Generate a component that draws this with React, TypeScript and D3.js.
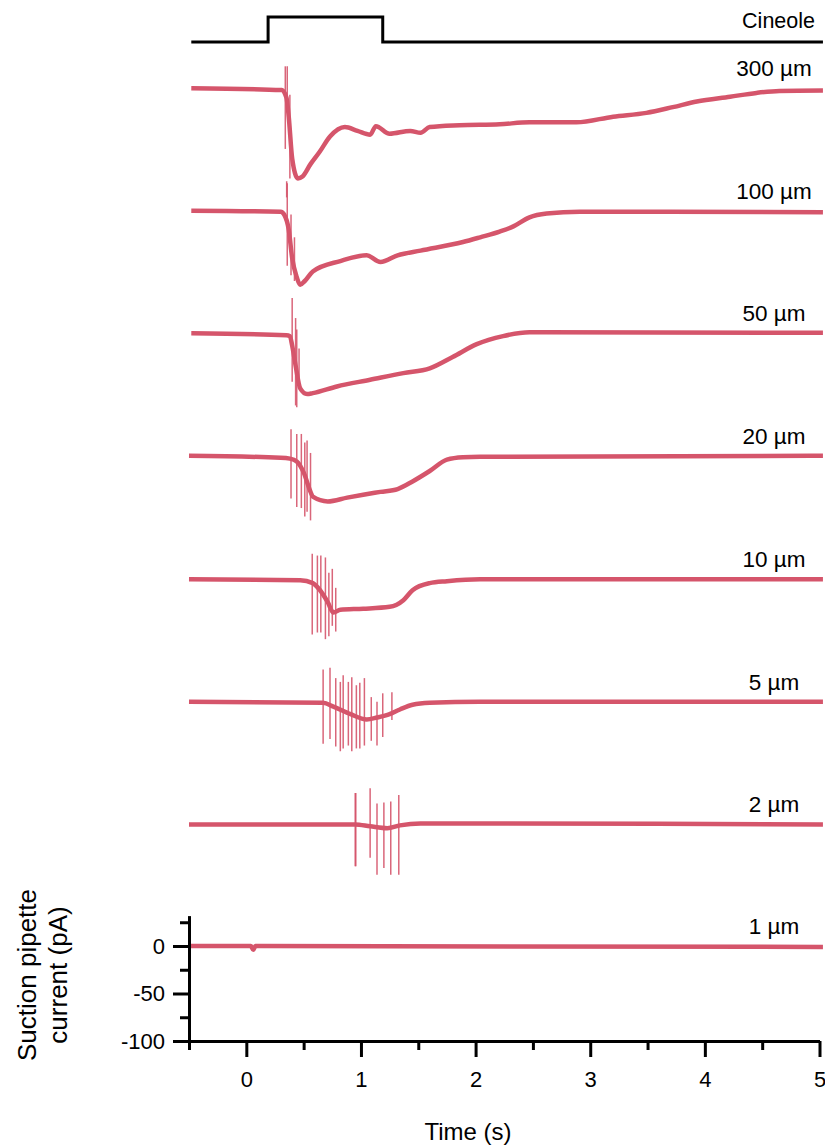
import { useEffect, useRef } from 'react';
import * as d3 from 'd3';

// time (s), current (pA relative to each trace's own baseline)
const trace300 = [
  [-0.48, 0], [0.31, -2], [0.35, -10], [0.37, -30], [0.40, -74], [0.45, -95], [0.49, -93],
  [0.56, -80], [0.64, -67], [0.73, -51], [0.86, -41], [0.97, -45], [1.08, -49], [1.13, -40],
  [1.25, -48], [1.43, -45], [1.52, -47], [1.60, -41], [1.86, -39], [2.21, -38], [2.47, -36],
  [2.88, -36], [3.20, -30], [3.49, -26], [3.72, -20], [3.93, -14], [4.22, -9], [4.45, -5],
  [4.65, -3], [5.03, -2.5],
];
const trace100 = [
  [-0.48, 0], [0.30, -1], [0.33, -4], [0.37, -20], [0.40, -50], [0.44, -70], [0.47, -78],
  [0.51, -74], [0.58, -64], [0.82, -53], [1.05, -47], [1.17, -54], [1.32, -47], [1.52, -42],
  [1.89, -33], [2.04, -28], [2.21, -22], [2.33, -16.5], [2.47, -7], [2.62, -3], [2.91, -1],
  [5.03, -1.5],
];
const trace50 = [
  [-0.48, 0], [0.35, -2], [0.38, -3], [0.40, -13], [0.43, -34], [0.47, -58], [0.53, -64],
  [0.58, -63], [0.79, -56], [1.08, -49], [1.37, -42], [1.60, -37], [1.80, -25], [2.01, -11.5],
  [2.24, -3], [2.47, 1], [5.03, 0.5],
];
const trace20 = [
  [-0.5, 0], [0.30, -2], [0.38, -3], [0.44, -6], [0.50, -17.5], [0.56, -38], [0.58, -43],
  [0.71, -48], [0.88, -44], [1.02, -41], [1.17, -38], [1.32, -35], [1.45, -27], [1.60, -16],
  [1.75, -4], [1.89, -1.5], [2.04, -1], [5.03, 0],
];
const trace10 = [
  [-0.5, 0], [0.47, -1], [0.58, -4], [0.64, -11], [0.71, -24], [0.76, -35], [0.82, -32],
  [1.02, -31], [1.25, -29], [1.37, -22], [1.45, -11.5], [1.60, -4], [1.75, -2], [2.04, 0],
  [5.03, 0],
];
const trace5 = [
  [-0.5, 0], [0.67, -1], [0.76, -5], [0.91, -13], [1.05, -18.5], [1.14, -16.5], [1.25, -13],
  [1.34, -8], [1.45, -3], [1.60, -1], [2.04, 0], [5.03, 0],
];
const trace2 = [
  [-0.5, 0], [0.95, 0], [1.08, -2], [1.23, -4], [1.34, -1], [1.52, 1], [5.03, 0],
];
const trace1 = [
  [-0.5, 0], [0.04, 0], [0.06, -4], [0.08, 0], [5.03, -1],
];

// fast transients: time (s), top (pA), bottom (pA)
const spikes300 = [[0.34, 23, -64], [0.357, 23, -23], [0.38, -7, -95], [0.352, -98, -115]];
const spikes100 = [[0.357, 29, -58], [0.39, -4, -68], [0.42, -28, -74]];
const spikes50 = [[0.40, 37, -51], [0.43, 16, -76], [0.44, 4, -78], [0.46, -16, -58]];
const spikes20 = [[0.39, 28, -45], [0.44, 23, -54], [0.48, 23, -55], [0.51, 14, -64], [0.53, 16, -59], [0.56, 3, -68]];
const spikes10 = [[0.575, 27, -58], [0.62, 25, -56], [0.65, 25, -56], [0.69, 23, -63], [0.72, 7, -60], [0.75, 11, -49], [0.78, -9, -55]];
const spikes5 = [
  [0.67, 34, -44], [0.73, 36, -39], [0.78, 25, -47], [0.82, 21, -52], [0.845, 28, -49],
  [0.89, 21, -46], [0.92, 26, -52], [0.96, 17.5, -49], [0.99, 20, -49], [1.03, 25, -46],
  [1.09, 5, -41], [1.14, 0, -46], [1.19, 9, -37], [1.27, 10, -19],
];
const spikes2 = [[0.95, 33, -44], [0.955, 33, -44], [1.08, 38, -35], [1.14, 22, -53], [1.20, 23, -46], [1.26, 24, -53], [1.33, 31, -53]];
const spikes1: number[][] = [];

const labels = ['300 µm', '100 µm', '50 µm', '20 µm', '10 µm', '5 µm', '2 µm', '1 µm'];
const offsets = [903, 774, 645, 516, 386, 257, 128, 0];
const traces = [trace300, trace100, trace50, trace20, trace10, trace5, trace2, trace1];
const spikes = [spikes300, spikes100, spikes50, spikes20, spikes10, spikes5, spikes2, spikes1];

// cineole valve command
const stimulus = [[-0.48, 0], [0.19, 0], [0.19, 1], [1.19, 1], [1.19, 0], [5.03, 0]];

const xMajor = [0, 1, 2, 3, 4, 5];
const xMinor = [-0.5, 0.5, 1.5, 2.5, 3.5, 4.5];
const yMajor = [0, -50, -100];
const yMinor = [25, -25, -75];

const RED = '#d5556b';
const FONT = 'Liberation Sans, Arial, Helvetica, sans-serif';

export default function App() {
  const xAxisRef = useRef<SVGGElement>(null);
  const yAxisRef = useRef<SVGGElement>(null);

  const x = d3.scaleLinear().domain([-0.5, 5]).range([189, 819.5]);
  const y = d3.scaleLinear().domain([-100, 32]).range([1041, 915.6]);
  const yStim = d3.scaleLinear().domain([0, 1]).range([42, 17]);

  useEffect(() => {
    const gx = d3.select(xAxisRef.current);
    gx.selectAll('*').remove();
    gx.append('g')
      .call(d3.axisBottom(x).tickValues(xMinor).tickSize(9).tickSizeOuter(0).tickFormat(() => ''))
      .call(g => g.select('.domain').remove());
    gx.append('g')
      .call(d3.axisBottom(x).tickValues(xMajor).tickSize(16).tickSizeOuter(0).tickPadding(14).tickFormat(d => String(d)));
    gx.selectAll('path, line').attr('stroke', '#000').attr('stroke-width', 3);
    gx.selectAll('text').attr('fill', '#000').style('font-size', '22px').style('font-family', FONT);

    const gy = d3.select(yAxisRef.current);
    gy.selectAll('*').remove();
    gy.append('g')
      .call(d3.axisLeft(y).tickValues(yMinor).tickSize(9).tickSizeOuter(0).tickFormat(() => ''))
      .call(g => g.select('.domain').remove());
    gy.append('g')
      .call(d3.axisLeft(y).tickValues(yMajor).tickSize(16).tickSizeOuter(0).tickPadding(8).tickFormat(d => String(d)));
    gy.selectAll('path, line').attr('stroke', '#000').attr('stroke-width', 3);
    gy.selectAll('text').attr('fill', '#000').style('font-size', '22px').style('font-family', FONT);
  }, []);

  const stimLine = d3.line<number[]>().x(d => x(d[0])).y(d => yStim(d[1]));

  return (
    <svg width={825} height={1145} style={{ position: 'absolute', left: 0, top: 0, background: '#fff' }}>
      <path d={stimLine(stimulus) ?? ''} fill="none" stroke="#000" strokeWidth={3} strokeLinejoin="miter" />
      <text x={815} y={28} textAnchor="end" fontFamily={FONT} fontSize={21.5}>Cineole</text>

      {traces.map((tr, i) => {
        const line = d3.line<number[]>().x(d => x(d[0])).y(d => y(d[1] + offsets[i])).curve(d3.curveMonotoneX);
        return (
          <g key={labels[i]}>
            <path d={line(tr) ?? ''} fill="none" stroke={RED} strokeWidth={4.5} strokeLinejoin="round" />
            {spikes[i].map((s, j) => (
              <line key={j} x1={x(s[0])} x2={x(s[0])} y1={y(s[1] + offsets[i])} y2={y(s[2] + offsets[i])}
                stroke={RED} strokeWidth={1.5} strokeOpacity={0.9} />
            ))}
            <text x={774} y={y(offsets[i]) - 12} textAnchor="middle" fontFamily={FONT} fontSize={22.5}>{labels[i]}</text>
          </g>
        );
      })}

      <g ref={xAxisRef} transform="translate(0,1041)" />
      <g ref={yAxisRef} transform="translate(189,0)" />

      <text transform="translate(36,975) rotate(-90)" textAnchor="middle" fontFamily={FONT} fontSize={26}>Suction pipette</text>
      <text transform="translate(67,975) rotate(-90)" textAnchor="middle" fontFamily={FONT} fontSize={26}>current (pA)</text>
      <text x={468} y={1140} textAnchor="middle" fontFamily={FONT} fontSize={24}>Time (s)</text>
    </svg>
  );
}
